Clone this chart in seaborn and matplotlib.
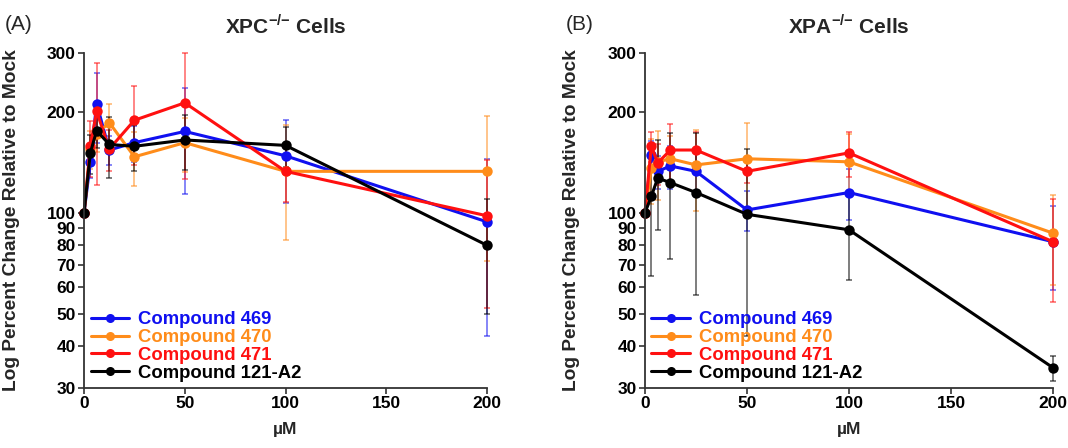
import numpy as np
import pandas as pd
import matplotlib
matplotlib.use("Agg")
import matplotlib.pyplot as plt
from matplotlib.lines import Line2D
from matplotlib.ticker import FixedLocator, FixedFormatter, NullLocator
import seaborn as sns

# ==========================================
# DATA
# ==========================================

conc = [0, 3.125, 6.25, 12.5, 25, 50, 100, 200]

compounds = ["Compound 469", "Compound 470", "Compound 471", "Compound 121-A2"]
colors = ["#1010F0", "#FF8C1A", "#FF1010", "#000000"]

# XPC-/- cells (panel A)
xpc_469 = [100, 142, 212, 154, 162, 175, 148, 94]
xpc_469_err = [0, 15, 50, 15, 20, 61, 41, 51]
xpc_470 = [100, 155, 172, 186, 147, 162, 133, 133]
xpc_470_err = [0, 20, 20, 25, 27, 30, 50, 61]
xpc_471 = [100, 158, 201, 155, 189, 213, 133, 98]
xpc_471_err = [0, 30, 80, 22, 50, 87, 25, 46]
xpc_121 = [100, 151, 176, 160, 158, 165, 159, 80]
xpc_121_err = [0, 20, 20, 33, 25, 31, 22, 30]

# XPA-/- cells (panel B)
xpa_469 = [100, 149, 133, 138, 133, 102, 115, 82]
xpa_469_err = [0, 15, 15, 20, 18, 14, 20, 23]
xpa_470 = [100, 136, 142, 145, 139, 145, 142, 87]
xpa_470_err = [0, 30, 33, 25, 38, 41, 30, 26]
xpa_471 = [100, 158, 141, 154, 154, 133, 151, 82]
xpa_471_err = [0, 16, 20, 30, 20, 10, 23, 28]
xpa_121 = [100, 112, 127, 123, 115, 99, 89, 34.5]
xpa_121_err = [0, 47, 38, 50, 58, 56, 26, 3]

y_ticks = [30, 40, 50, 60, 70, 80, 90, 100, 200, 300]
x_ticks = [0, 50, 100, 150, 200]

# ==========================================
# CONFIG
# ==========================================

sns.set_style("ticks")
plt.rcParams["font.family"] = ["Liberation Sans", "DejaVu Sans"]
plt.rcParams["font.weight"] = "bold"
plt.rcParams["mathtext.fontset"] = "custom"
plt.rcParams["mathtext.rm"] = "Liberation Sans:bold"
plt.rcParams["mathtext.bf"] = "Liberation Sans:bold"

fig = plt.figure(figsize=(10.68, 4.48), dpi=100)
ax_a = fig.add_axes([0.0787, 0.1339, 0.3773, 0.7478])
ax_b = fig.add_axes([0.6039, 0.1339, 0.3820, 0.7478])


def long_table(series, errs):
    rows = []
    for name, vals, err in zip(compounds, series, errs):
        for c, v, e in zip(conc, vals, err):
            rows.append({"conc": c, "value": v, "err": e, "compound": name})
    return pd.DataFrame(rows)


def draw_panel(ax, df, cell):
    for name, col in zip(compounds, colors):
        sub = df[df["compound"] == name]
        ax.errorbar(
            sub["conc"], sub["value"], yerr=sub["err"],
            fmt="none", ecolor=col, alpha=0.55,
            elinewidth=1.3, capsize=2.5, capthick=1.3,
            clip_on=False
        )
    sns.lineplot(
        data=df, x="conc", y="value", hue="compound",
        hue_order=compounds, palette=colors,
        marker="o", markersize=7.5, markeredgewidth=0,
        linewidth=2.2, legend=False, ax=ax, clip_on=False
    )

    ax.set_yscale("log")
    ax.set_ylim(30, 300)
    ax.set_xlim(0, 200)

    ax.yaxis.set_major_locator(FixedLocator(y_ticks))
    ax.yaxis.set_major_formatter(FixedFormatter([str(t) for t in y_ticks]))
    ax.yaxis.set_minor_locator(NullLocator())
    ax.set_xticks(x_ticks)

    ax.tick_params(axis="both", labelsize=12.5, direction="out",
                   length=4, width=1.2, colors="#333333",
                   labelcolor="black", pad=2)
    for lbl in ax.get_xticklabels() + ax.get_yticklabels():
        lbl.set_fontweight("bold")

    sns.despine(ax=ax)
    for sp in ["left", "bottom"]:
        ax.spines[sp].set_linewidth(1.3)
        ax.spines[sp].set_color("#333333")

    ax.set_xlabel("µM", fontsize=12.5, fontweight="bold", labelpad=8)
    ax.set_ylabel("Log Percent Change Relative to Mock",
                  fontsize=13.8, fontweight="bold")
    ax.yaxis.set_label_coords(-0.16, 0.5)

    # title: cell line with small "-/-" superscript
    ax.set_title(cell + r"$^{\mathrm{{-}/{-}}}$ Cells",
                 fontsize=15, fontweight="bold", pad=14)

    handles = [
        Line2D([0], [0], color=c, marker="o", markersize=6.5,
               markeredgewidth=0, linewidth=2.2)
        for c in colors
    ]
    leg = ax.legend(
        handles, compounds, loc="lower left", bbox_to_anchor=(0.0, 0.0),
        frameon=False, handlelength=2.1,
        handletextpad=0.45, labelspacing=0.04, borderaxespad=0.15,
        borderpad=0.2, prop={"weight": "bold", "size": 13.3}
    )
    for txt, c in zip(leg.get_texts(), colors):
        txt.set_color(c)


df_a = long_table([xpc_469, xpc_470, xpc_471, xpc_121],
                  [xpc_469_err, xpc_470_err, xpc_471_err, xpc_121_err])
df_b = long_table([xpa_469, xpa_470, xpa_471, xpa_121],
                  [xpa_469_err, xpa_470_err, xpa_471_err, xpa_121_err])

draw_panel(ax_a, df_a, "XPC")
draw_panel(ax_b, df_b, "XPA")

fig.text(0.004, 0.945, "(A)", fontsize=15, fontweight="normal", va="center")
fig.text(0.530, 0.945, "(B)", fontsize=15, fontweight="normal", va="center")

fig.savefig("out.png", dpi=100)
